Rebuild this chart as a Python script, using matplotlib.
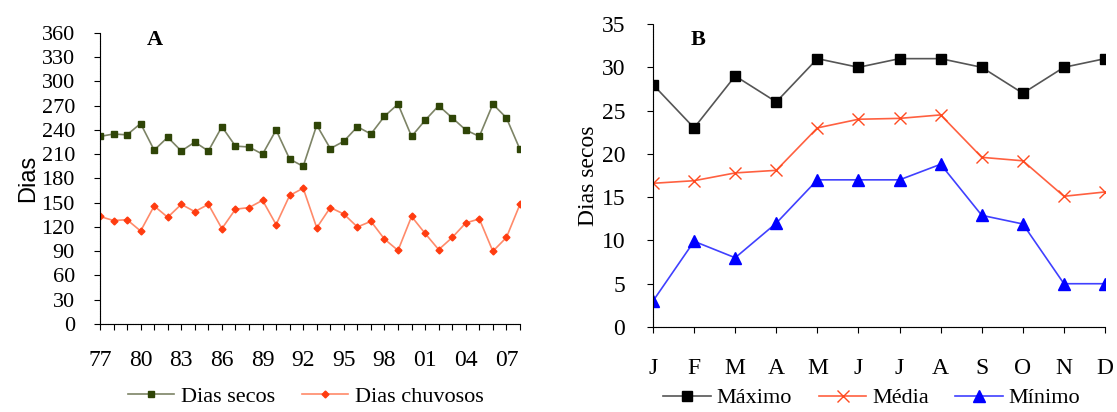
import numpy as np
import matplotlib
matplotlib.use("Agg")
import matplotlib.pyplot as plt

# Panel A - annual number of days (1977-2008)
anos = ['77', '78', '79', '80', '81', '82', '83', '84', '85', '86', '87', '88', '89', '90', '91', '92',
        '93', '94', '95', '96', '97', '98', '99', '00', '01', '02', '03', '04', '05', '06', '07', '08']
dias_secos = [232, 235, 234, 248, 215, 231, 214, 225, 214, 244, 220, 219, 210, 240, 204, 195,
              246, 217, 226, 244, 235, 257, 272, 232, 252, 270, 255, 240, 232, 272, 255, 216]
dias_chuvosos = [133, 128, 129, 115, 146, 132, 148, 139, 148, 118, 142, 144, 153, 123, 159, 168,
                 119, 144, 136, 120, 127, 105, 91, 133, 112, 92, 107, 125, 130, 90, 107, 148]

# Panel B - monthly dry days
meses = ['J', 'F', 'M', 'A', 'M', 'J', 'J', 'A', 'S', 'O', 'N', 'D']
maximo = [28, 23, 29, 26, 31, 30, 31, 31, 30, 27, 30, 31]
media = [16.6, 16.9, 17.8, 18.1, 23.0, 24.0, 24.1, 24.5, 19.6, 19.2, 15.1, 15.6]
minimo = [3, 9.9, 8, 12, 17, 17, 17, 18.8, 12.9, 11.9, 5, 5]

serif = 'Liberation Serif'

fig = plt.figure(figsize=(11.17, 4.12), dpi=100)
axA = fig.add_axes([0.0895, 0.2136, 0.376, 0.7064])
axB = fig.add_axes([0.5846, 0.2063, 0.4047, 0.7354])

# ---- Panel A ----
x = np.arange(len(anos))
axA.plot(x, dias_secos, color='#7d8466', lw=1.2, marker='s', ms=5,
         mfc='#2f4507', mec='#2f4507', label='Dias secos')
axA.plot(x, dias_chuvosos, color='#ff8a6a', lw=1.2, marker='D', ms=3.5,
         mfc='#ff3c10', mec='#ff3c10', label='Dias chuvosos')
axA.set_xlim(0, len(anos) - 1)
axA.set_ylim(0, 360)
axA.set_yticks(np.arange(0, 361, 30))
axA.set_xticks(x)
axA.set_xticklabels([a if i % 3 == 0 else '' for i, a in enumerate(anos)])
axA.tick_params(axis='y', labelsize=16, length=4, pad=14)
axA.tick_params(axis='x', labelsize=17, length=4, pad=15)
axA.set_ylabel('Dias', family='Liberation Sans', fontsize=17, labelpad=2)
axA.text(0.13, 0.975, 'A', transform=axA.transAxes, family=serif,
         fontsize=16, fontweight='bold', ha='center', va='center')
axA.legend(loc='center', bbox_to_anchor=(0.49, -0.25), ncol=2, frameon=False,
           prop={'family': serif, 'size': 16}, handlelength=2.1, handletextpad=0.3,
           columnspacing=1.2)

# ---- Panel B ----
m = np.arange(len(meses))
axB.plot(m, maximo, color='#555555', lw=1.2, marker='s', ms=7,
         mfc='black', mec='black', label='Máximo')
axB.plot(m, media, color='#ff6040', lw=1.2, marker='x', ms=9, mew=1,
         mec='#ff4a20', label='Média')
axB.plot(m, minimo, color='#4040ff', lw=1.2, marker='^', ms=8,
         mfc='#0000ff', mec='#0000ff', label='Mínimo')
axB.set_xlim(0, len(meses) - 1)
axB.set_ylim(0, 35)
axB.set_yticks(np.arange(0, 36, 5))
axB.set_xticks(m)
axB.set_xticklabels(meses)
axB.tick_params(axis='y', labelsize=17, length=4, pad=16)
axB.tick_params(axis='x', labelsize=17, length=4, pad=18)
axB.set_ylabel('Dias secos', family=serif, fontsize=17, labelpad=2)
axB.text(0.1, 0.947, 'B', transform=axB.transAxes, family=serif,
         fontsize=16, fontweight='bold', ha='center', va='center')
axB.legend(loc='center', bbox_to_anchor=(0.484, -0.235), ncol=3, frameon=False,
           prop={'family': serif, 'size': 16}, handlelength=2.15, handletextpad=0.25,
           columnspacing=1.2)

for ax in (axA, axB):
    ax.spines['top'].set_visible(False)
    ax.spines['right'].set_visible(False)
    ax.spines['left'].set_linestyle((0, (1, 0.5)))
    ax.spines['bottom'].set_linestyle((0, (1, 0.5)))
    for lab in ax.get_xticklabels() + ax.get_yticklabels():
        lab.set_family(serif)

fig.savefig('out.png', dpi=100)
